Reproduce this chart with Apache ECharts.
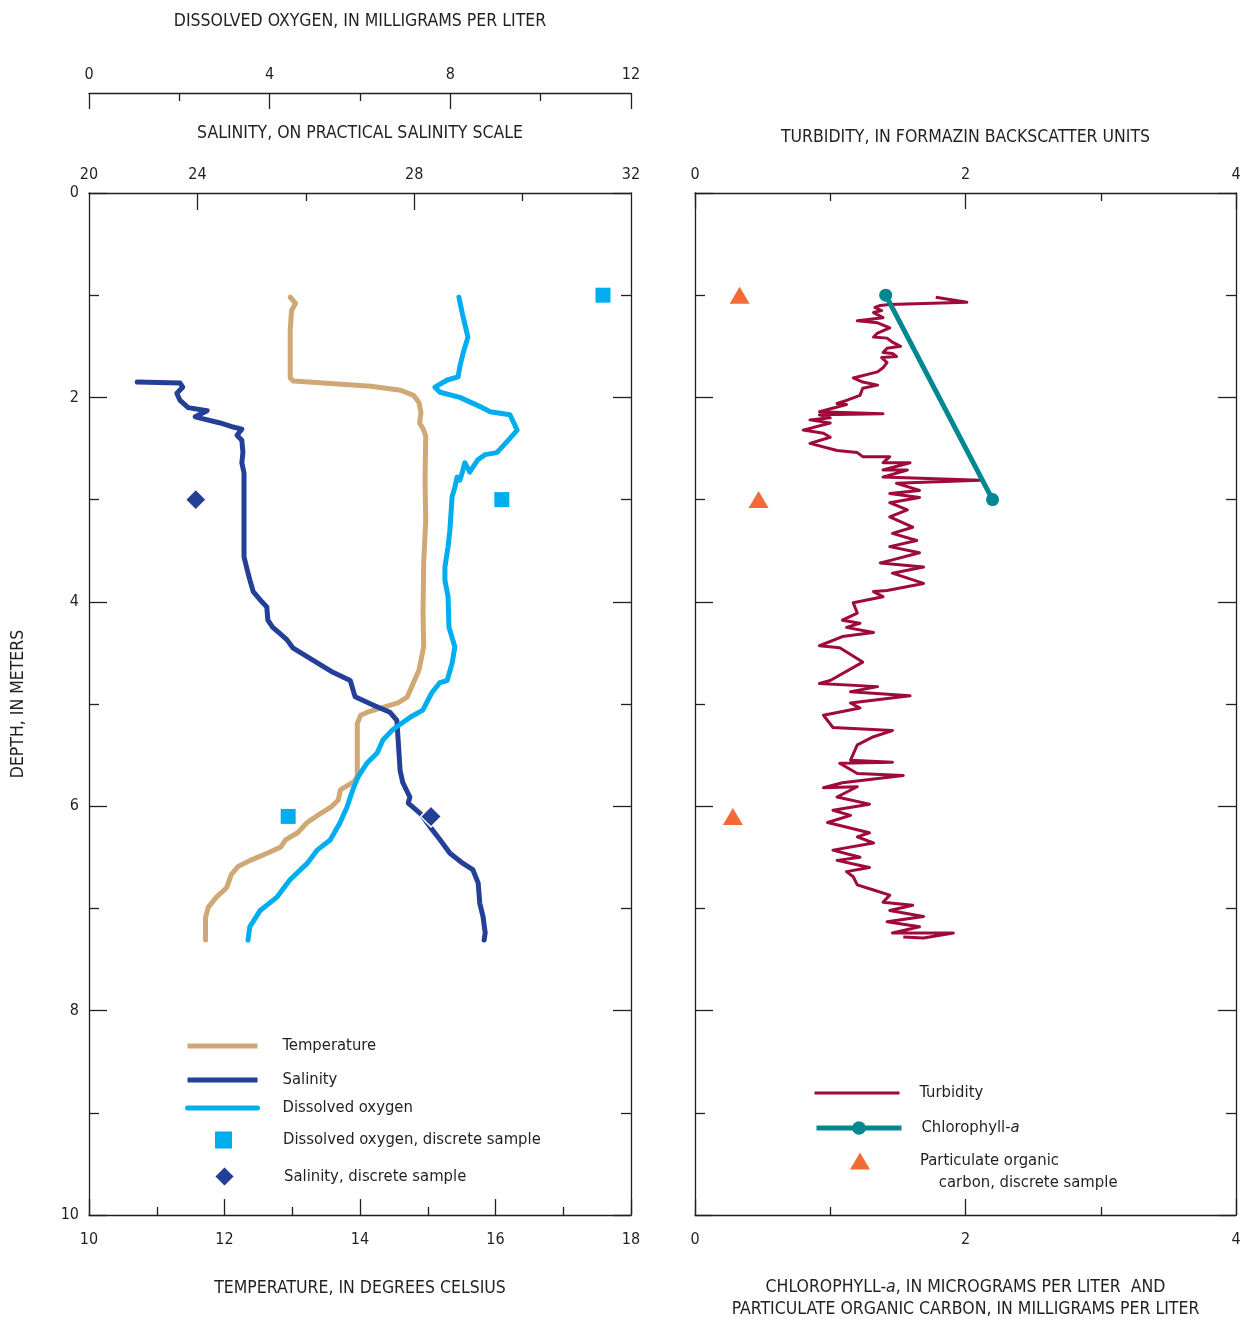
<!DOCTYPE html>
<html>
<head>
<meta charset="utf-8">
<script src="https://cdn.jsdelivr.net/npm/echarts@6/dist/echarts.min.js"></script>
<style>
html,body{margin:0;padding:0;background:#fff;}
#chart{width:1246px;height:1319px;}
</style>
</head>
<body>
<div id="chart"></div>
<script>
// ---------- DATA (depth in meters) ----------
// Temperature profile: [degrees Celsius, depth]
var temperatureProfile = [
  [12.97,1.02],[13.05,1.08],[12.99,1.15],[12.97,1.34],[12.97,1.81],[13.02,1.84],[14.16,1.89],
  [14.60,1.93],[14.79,1.98],[14.87,2.05],[14.90,2.15],[14.88,2.25],[14.94,2.32],[14.97,2.38],
  [14.96,2.81],[14.97,3.20],[14.94,3.62],[14.93,4.11],[14.94,4.44],[14.87,4.67],[14.79,4.79],
  [14.70,4.93],[14.56,4.99],[14.11,5.08],[14.01,5.11],[13.96,5.19],[13.96,5.45],[13.96,5.71],
  [13.91,5.76],[13.71,5.84],[13.68,5.94],[13.57,6.01],[13.42,6.07],[13.22,6.16],[13.08,6.26],
  [12.90,6.33],[12.83,6.40],[12.63,6.46],[12.38,6.53],[12.20,6.59],[12.10,6.67],[12.03,6.80],
  [11.88,6.89],[11.76,6.99],[11.72,7.09],[11.72,7.31]
];
// Salinity profile: [salinity (axis scale), depth]
var salinityProfile = [
  [22.89,1.85],[23.68,1.86],[23.73,1.90],[23.62,1.96],[23.68,2.03],[23.83,2.10],[24.18,2.13],
  [23.96,2.19],[24.42,2.25],[24.66,2.29],[24.82,2.31],[24.73,2.37],[24.82,2.42],[24.84,2.54],
  [24.82,2.64],[24.86,2.74],[24.86,3.13],[24.86,3.56],[24.92,3.69],[24.97,3.79],[25.03,3.90],
  [25.19,4.00],[25.28,4.05],[25.30,4.18],[25.39,4.25],[25.52,4.31],[25.65,4.37],[25.76,4.45],
  [26.13,4.57],[26.50,4.69],[26.82,4.77],[26.91,4.93],[27.24,5.01],[27.55,5.08],[27.68,5.16],
  [27.70,5.32],[27.74,5.65],[27.79,5.77],[27.92,5.91],[27.89,5.97],[28.11,6.07],[28.29,6.20],
  [28.48,6.33],[28.66,6.46],[28.90,6.56],[29.08,6.62],[29.18,6.75],[29.21,6.95],[29.27,7.08],
  [29.31,7.24],[29.29,7.31]
];
// Dissolved oxygen profile: [mg/L, depth]
var oxygenProfile = [
  [8.19,1.02],[8.26,1.17],[8.39,1.41],[8.28,1.57],[8.21,1.70],[8.17,1.80],[7.93,1.83],[7.66,1.90],
  [7.77,1.95],[8.21,2.00],[8.66,2.09],[8.88,2.14],[9.32,2.17],[9.48,2.32],[9.28,2.42],[9.03,2.54],
  [8.77,2.56],[8.61,2.61],[8.43,2.73],[8.32,2.64],[8.26,2.74],[8.21,2.81],[8.15,2.78],[8.10,2.88],
  [8.04,2.97],[7.99,3.30],[7.95,3.46],[7.88,3.66],[7.88,3.79],[7.95,3.95],[7.97,4.25],[8.10,4.44],
  [8.04,4.60],[7.93,4.77],[7.77,4.79],[7.59,4.89],[7.39,5.06],[7.11,5.13],[6.73,5.25],[6.51,5.35],
  [6.38,5.48],[6.15,5.58],[5.96,5.71],[5.84,5.84],[5.71,6.01],[5.56,6.16],[5.34,6.33],[5.05,6.43],
  [4.83,6.56],[4.45,6.72],[4.16,6.89],[3.79,7.02],[3.56,7.18],[3.52,7.31]
];
var oxygenSamples = [[11.38,1.0],[9.14,3.0],[4.41,6.1]];
var salinitySamples = [[23.97,3.0],[28.31,6.1]];
// Turbidity profile: [FBU, depth]
var turbidityProfile = [
  [1.78,1.02],[2.01,1.07],[1.44,1.09],[1.37,1.10],[1.33,1.12],[1.38,1.15],[1.32,1.17],[1.39,1.22],
  [1.20,1.25],[1.35,1.27],[1.44,1.32],[1.35,1.37],[1.32,1.41],[1.42,1.42],[1.46,1.46],[1.52,1.50],
  [1.42,1.52],[1.39,1.56],[1.46,1.57],[1.49,1.60],[1.38,1.61],[1.42,1.66],[1.39,1.71],[1.35,1.75],
  [1.17,1.81],[1.24,1.85],[1.35,1.88],[1.24,1.91],[1.22,1.98],[1.12,2.03],[1.05,2.06],[1.12,2.07],
  [0.92,2.14],[1.39,2.16],[0.92,2.17],[1.00,2.20],[0.85,2.22],[1.00,2.25],[0.80,2.32],[0.95,2.35],
  [1.00,2.39],[0.85,2.45],[1.05,2.52],[1.20,2.54],[1.24,2.58],[1.44,2.58],[1.39,2.64],[1.59,2.64],
  [1.39,2.71],[1.57,2.71],[1.39,2.78],[2.11,2.81],[1.69,2.83],[1.49,2.84],[1.66,2.91],[1.44,2.94],
  [1.66,2.98],[1.44,3.03],[1.57,3.10],[1.44,3.17],[1.61,3.27],[1.46,3.33],[1.64,3.40],[1.44,3.46],
  [1.66,3.52],[1.46,3.59],[1.37,3.62],[1.69,3.66],[1.46,3.72],[1.69,3.82],[1.42,3.89],[1.32,3.90],
  [1.39,3.95],[1.17,4.01],[1.20,4.11],[1.09,4.18],[1.22,4.21],[1.12,4.25],[1.32,4.30],[1.09,4.34],
  [0.92,4.43],[1.07,4.45],[1.24,4.59],[1.00,4.77],[0.92,4.80],[1.35,4.83],[1.15,4.88],[1.59,4.92],
  [1.15,4.99],[1.22,5.04],[0.95,5.11],[1.02,5.23],[1.46,5.26],[1.32,5.32],[1.20,5.40],[1.15,5.55],
  [1.46,5.57],[1.07,5.58],[1.20,5.68],[1.54,5.70],[1.09,5.77],[0.95,5.82],[1.20,5.81],[1.05,5.91],
  [1.29,5.98],[1.02,6.04],[1.15,6.09],[0.98,6.16],[1.29,6.26],[1.20,6.30],[1.32,6.36],[1.02,6.43],
  [1.22,6.50],[1.05,6.53],[1.29,6.60],[1.12,6.64],[1.17,6.69],[1.20,6.77],[1.32,6.82],[1.44,6.87],
  [1.39,6.94],[1.61,6.97],[1.44,7.02],[1.69,7.08],[1.42,7.13],[1.66,7.18],[1.46,7.24],[1.91,7.24],
  [1.69,7.29],[1.54,7.28]
];
var chlorophyllPoints = [[1.41,1.0],[2.20,3.0]];
var pocSamples = [[0.33,1.0],[0.47,3.0],[0.28,6.1]];

var salinityTickLabels = {22:'20', 24:'24', 28:'28', 32:'32'};

// ---------- STYLE ----------
var FONT = "'DejaVu Sans Condensed','Liberation Sans Narrow','Roboto Condensed','Arial Narrow',sans-serif";
var INK = '#231f20';
var C_TEMP = '#cfa875', C_SAL = '#233f98', C_DO = '#00aeef',
    C_TURB = '#9e0b3a', C_CHL = '#00878f', C_POC = '#f26a35';
var TITLE_FS = 17.5, TICK_FS = 16, LEG_FS = 16.5;

var lineAx = {show:true, onZero:false, lineStyle:{color:INK, width:1.3}};
var tickStyle = {color:INK, width:1.3};

function depthAxis(gridIndex, pos, showLabels, name) {
  return {
    type:'value', gridIndex:gridIndex, position:pos, inverse:true, min:0, max:10, interval:2,
    axisLine:lineAx, splitLine:{show:false},
    axisTick:{show:true, inside:true, length:18, lineStyle:tickStyle},
    minorTick:{show:true, splitNumber:2, length:10, lineStyle:tickStyle},
    axisLabel:{show:showLabels, margin:10, fontFamily:FONT, fontSize:TICK_FS, color:INK},
    name: name || '', nameLocation:'middle', nameGap:62,
    nameTextStyle:{fontFamily:FONT, fontSize:TITLE_FS, color:INK}
  };
}

function lg(name, left, top, iw, ih, pad, extra) {
  var o = {
    data:[name], left:left, top:top, itemWidth:iw, itemHeight:ih, padding:0, selectedMode:false,
    itemGap:0,
    textStyle:{fontFamily:FONT, fontSize:LEG_FS, color:INK, lineHeight:20, padding:[0,0,0,pad]}
  };
  if (extra) { for (var k in extra) o[k] = extra[k]; }
  return o;
}

var chart = echarts.init(document.getElementById('chart'), null, {renderer:'canvas'});
chart.setOption({
  animation:false,
  backgroundColor:'#fff',
  grid:[
    {left:89, top:193, width:542, height:1022, containLabel:false, outerBoundsMode:'none'},
    {left:695, top:193, width:541, height:1022, containLabel:false, outerBoundsMode:'none'}
  ],
  xAxis:[
    { // 0 temperature
      type:'value', gridIndex:0, position:'bottom', min:10, max:18, interval:2,
      axisLine:lineAx, splitLine:{show:false},
      axisTick:{show:true, inside:true, length:16, lineStyle:tickStyle},
      minorTick:{show:true, splitNumber:2, length:8, lineStyle:tickStyle},
      axisLabel:{margin:17, fontFamily:FONT, fontSize:TICK_FS, color:INK},
      name:'TEMPERATURE, IN DEGREES CELSIUS', nameLocation:'middle', nameGap:64,
      nameTextStyle:{fontFamily:FONT, fontSize:TITLE_FS, color:INK}
    },
    { // 1 salinity
      type:'value', gridIndex:0, position:'top', min:22, max:32, interval:2,
      axisLine:lineAx, splitLine:{show:false},
      axisTick:{show:true, inside:true, length:17, customValues:[24,28], lineStyle:tickStyle},
      axisLabel:{margin:10, fontFamily:FONT, fontSize:TICK_FS, color:INK, customValues:[22,24,28,32],
        formatter:function(v){ return salinityTickLabels[v] || ''; }},
      name:'SALINITY, ON PRACTICAL SALINITY SCALE', nameLocation:'middle', nameGap:51,
      nameTextStyle:{fontFamily:FONT, fontSize:TITLE_FS, color:INK}
    },
    { // 2 salinity minor ticks
      type:'value', gridIndex:0, position:'top', min:22, max:32, interval:2,
      axisLine:{show:false, onZero:false}, splitLine:{show:false}, axisLabel:{show:false},
      axisTick:{show:true, inside:true, length:8, customValues:[26,30], lineStyle:tickStyle}
    },
    { // 3 dissolved oxygen
      type:'value', gridIndex:0, position:'top', offset:100, min:0, max:12, interval:4,
      axisLine:lineAx, splitLine:{show:false},
      axisTick:{show:true, inside:true, length:16, lineStyle:tickStyle},
      minorTick:{show:true, splitNumber:2, length:8, lineStyle:tickStyle},
      axisLabel:{margin:10, fontFamily:FONT, fontSize:TICK_FS, color:INK},
      name:'DISSOLVED OXYGEN, IN MILLIGRAMS PER LITER', nameLocation:'middle', nameGap:63,
      nameTextStyle:{fontFamily:FONT, fontSize:TITLE_FS, color:INK}
    },
    { // 4 chlorophyll / POC
      type:'value', gridIndex:1, position:'bottom', min:0, max:4, interval:2,
      axisLine:lineAx, splitLine:{show:false},
      axisTick:{show:true, inside:true, length:16, lineStyle:tickStyle},
      minorTick:{show:true, splitNumber:2, length:8, lineStyle:tickStyle},
      axisLabel:{margin:17, fontFamily:FONT, fontSize:TICK_FS, color:INK},
      name:'CHLOROPHYLL-{i|a}, IN MICROGRAMS PER LITER  AND\nPARTICULATE ORGANIC CARBON, IN MILLIGRAMS PER LITER',
      nameLocation:'middle', nameGap:61,
      nameTextStyle:{fontFamily:FONT, fontSize:TITLE_FS, color:INK, lineHeight:22,
        rich:{i:{fontFamily:FONT, fontSize:TITLE_FS, color:INK, fontStyle:'italic', lineHeight:22}}}
    },
    { // 5 turbidity
      type:'value', gridIndex:1, position:'top', min:0, max:4, interval:2,
      axisLine:lineAx, splitLine:{show:false},
      axisTick:{show:true, inside:true, length:16, lineStyle:tickStyle},
      minorTick:{show:true, splitNumber:2, length:8, lineStyle:tickStyle},
      axisLabel:{margin:10, fontFamily:FONT, fontSize:TICK_FS, color:INK},
      name:'TURBIDITY, IN FORMAZIN BACKSCATTER UNITS', nameLocation:'middle', nameGap:47,
      nameTextStyle:{fontFamily:FONT, fontSize:TITLE_FS, color:INK}
    }
  ],
  yAxis:[
    depthAxis(0, 'left', true, 'DEPTH, IN METERS'),
    depthAxis(0, 'right', false),
    depthAxis(1, 'left', false),
    depthAxis(1, 'right', false)
  ],
  legend:[
    lg('Temperature', 185, 1036, 70, 5, 20, {lineStyle:{width:5, cap:'butt'}, itemStyle:{opacity:0}}),
    lg('Salinity', 185, 1070, 70, 5, 20, {lineStyle:{width:5, cap:'butt'}, itemStyle:{opacity:0}}),
    lg('Dissolved oxygen', 185, 1098, 70, 5, 20, {lineStyle:{width:5, cap:'round'}, itemStyle:{opacity:0}}),
    lg('Dissolved oxygen, discrete sample', 215, 1130, 17, 17, 46),
    lg('Salinity, discrete sample', 213, 1165, 21, 21, 44),
    lg('Turbidity', 813, 1083, 85, 3, 15, {lineStyle:{width:3}, itemStyle:{opacity:0}}),
    lg('Chlorophyll-a', 814, 1118, 85, 17, 15, {
      lineStyle:{width:5},
      formatter:function(){ return 'Chlorophyll-{i|a}'; },
      textStyle:{fontFamily:FONT, fontSize:LEG_FS, color:INK, lineHeight:20, padding:[0,0,0,15],
        rich:{i:{fontFamily:FONT, fontSize:LEG_FS, color:INK, fontStyle:'italic'}}}
    }),
    lg('Particulate organic carbon, discrete sample', 850, 1128, 20, 17, 45, {
      formatter:function(){ return '\nParticulate organic\n    carbon, discrete sample'; },
      textStyle:{fontFamily:FONT, fontSize:LEG_FS, color:INK, lineHeight:22, padding:[0,0,0,45]}
    })
  ],
  series:[
    { name:'Temperature', type:'line', xAxisIndex:0, yAxisIndex:0, data:temperatureProfile,
      symbol:'none', showSymbol:false, z:2,
      lineStyle:{color:C_TEMP, width:5, cap:'round', join:'round'}, itemStyle:{color:C_TEMP} },
    { name:'Salinity', type:'line', xAxisIndex:1, yAxisIndex:0, data:salinityProfile,
      symbol:'none', showSymbol:false, z:3,
      lineStyle:{color:C_SAL, width:5, cap:'round', join:'round'}, itemStyle:{color:C_SAL} },
    { name:'Dissolved oxygen', type:'line', xAxisIndex:3, yAxisIndex:0, data:oxygenProfile,
      symbol:'none', showSymbol:false, z:4,
      lineStyle:{color:C_DO, width:5, cap:'round', join:'round'}, itemStyle:{color:C_DO} },
    { name:'Dissolved oxygen, discrete sample', type:'scatter', xAxisIndex:3, yAxisIndex:0,
      data:oxygenSamples, symbol:'rect', symbolSize:15, z:5, itemStyle:{color:C_DO, opacity:1} },
    { name:'Salinity, discrete sample', type:'scatter', xAxisIndex:1, yAxisIndex:0,
      data:salinitySamples, symbol:'diamond', symbolSize:21, z:6,
      itemStyle:{color:C_SAL, opacity:1, borderColor:'#fff', borderWidth:1.5} },
    { name:'Turbidity', type:'line', xAxisIndex:5, yAxisIndex:2, data:turbidityProfile,
      symbol:'none', showSymbol:false, z:2,
      lineStyle:{color:C_TURB, width:3, join:'round'}, itemStyle:{color:C_TURB} },
    { name:'Chlorophyll-a', type:'line', xAxisIndex:4, yAxisIndex:2, data:chlorophyllPoints,
      symbol:'circle', symbolSize:13, showSymbol:true, z:4,
      lineStyle:{color:C_CHL, width:5}, itemStyle:{color:C_CHL} },
    { name:'Particulate organic carbon, discrete sample', type:'scatter', xAxisIndex:4, yAxisIndex:2,
      data:pocSamples, symbol:'triangle', symbolSize:[20,17], z:5, itemStyle:{color:C_POC, opacity:1} }
  ]
});
</script>
</body>
</html>
